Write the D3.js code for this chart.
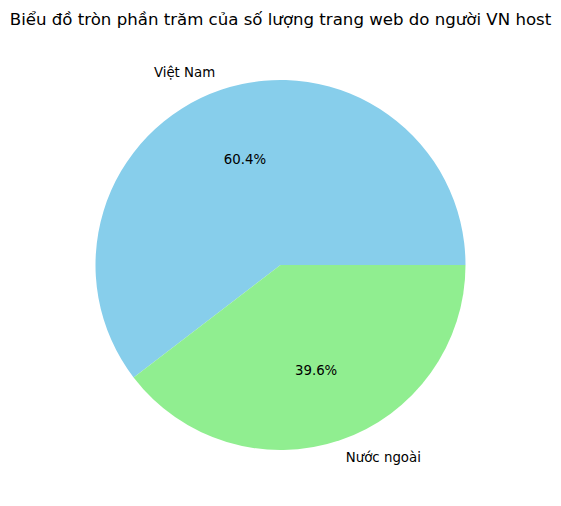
<!DOCTYPE html>
<html>
<head>
<meta charset="utf-8">
<script src="https://cdn.jsdelivr.net/npm/d3@7"></script>
<style>
  body { margin: 0; background: #fff; }
  text { font-family: "DejaVu Sans", sans-serif; fill: #000; }
</style>
</head>
<body>
<div id="chart"></div>
<script>
const labels = ['Việt Nam', 'Nước ngoài'];
const values = [60.4, 39.6];
const colors = ['#87ceeb', '#90ee90'];

const width = 561, height = 506;
const cx = 280.5, cy = 265, radius = 185;

const svg = d3.select('#chart').append('svg')
	.attr('width', width)
	.attr('height', height);

svg.append('text')
	.attr('x', cx)
	.attr('y', 25)
	.attr('text-anchor', 'middle')
	.style('font-size', '16.6px')
	.text('Biểu đồ tròn phần trăm của số lượng trang web do người VN host');

// matplotlib style: start at 3 o'clock, counterclockwise
const pieFn = d3.pie()
	.sort(null)
	.value(d => d)
	.startAngle(Math.PI / 2)
	.endAngle(Math.PI / 2 - 2 * Math.PI);

const pieData = pieFn(values);
const arcFn = d3.arc().innerRadius(0).outerRadius(radius);

const g = svg.append('g').attr('transform', `translate(${cx},${cy})`);

g.selectAll('path').data(pieData).join('path')
	.attr('d', arcFn)
	.attr('fill', (d, i) => colors[i]);

function pos(d, r) {
	const a = (d.startAngle + d.endAngle) / 2;
	return [r * Math.sin(a), -r * Math.cos(a)];
}

g.selectAll('.pct').data(pieData).join('text')
	.attr('class', 'pct')
	.attr('x', d => pos(d, radius * 0.6)[0])
	.attr('y', d => pos(d, radius * 0.6)[1])
	.attr('text-anchor', 'middle')
	.attr('dominant-baseline', 'central')
	.style('font-size', '13.33px')
	.text(d => d.value.toFixed(1) + '%');

g.selectAll('.lbl').data(pieData).join('text')
	.attr('class', 'lbl')
	.attr('x', d => pos(d, radius * 1.1)[0])
	.attr('y', d => pos(d, radius * 1.1)[1])
	.attr('text-anchor', d => pos(d, 1)[0] < 0 ? 'end' : 'start')
	.attr('dominant-baseline', 'central')
	.style('font-size', '13.33px')
	.text((d, i) => labels[i]);
</script>
</body>
</html>
